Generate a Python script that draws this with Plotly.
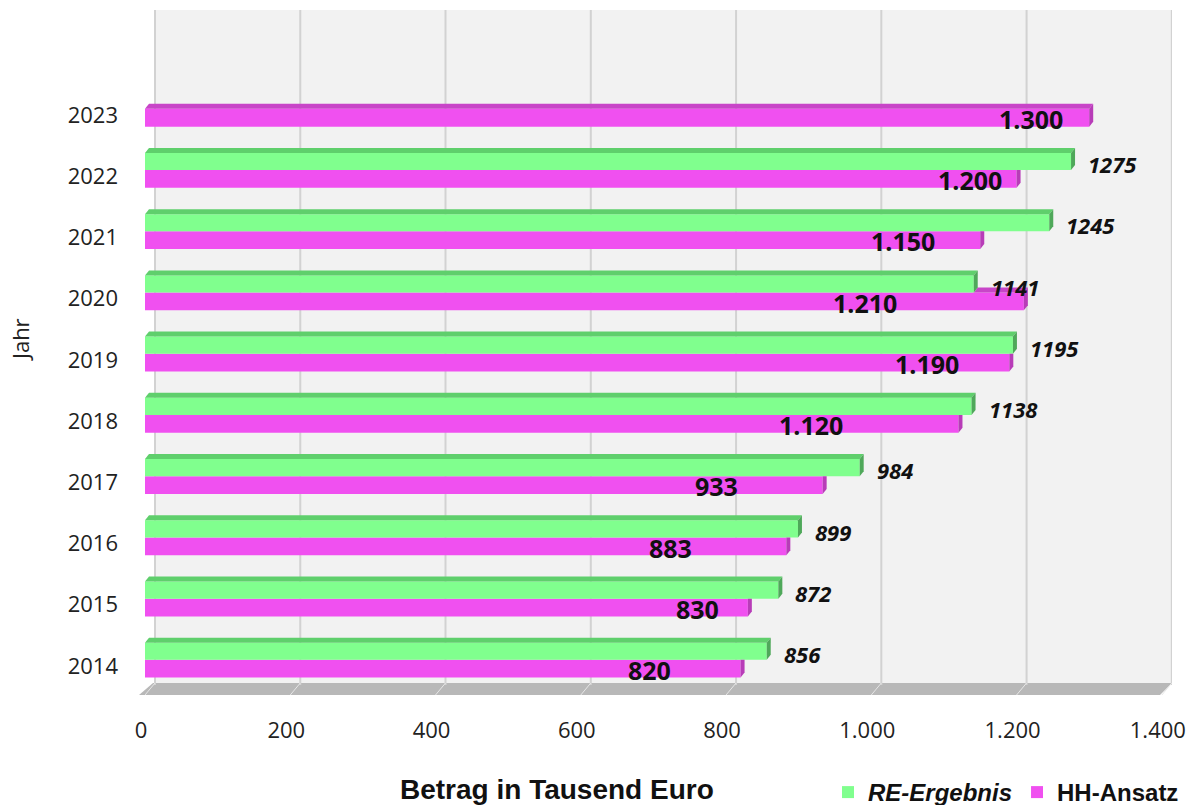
import plotly.graph_objects as go

years = [2014, 2015, 2016, 2017, 2018, 2019, 2020, 2021, 2022, 2023]
re_ergebnis = [856, 872, 899, 984, 1138, 1195, 1141, 1245, 1275, None]
hh_ansatz = [820, 830, 883, 933, 1120, 1190, 1210, 1150, 1200, 1300]
hh_text = ["820", "830", "883", "933", "1.120", "1.190", "1.210", "1.150", "1.200", "1.300"]
hh_label_x = [695, 761, 724, 787, 917, 1076, 991, 1043, 1136, 1220]
x_ticks = [0, 200, 400, 600, 800, 1000, 1200, 1400]
x_tick_text = ["0", "200", "400", "600", "800", "1.000", "1.200", "1.400"]

GREEN = "#80ff8e"
GREEN_TOP = "#5fcf6c"
GREEN_SIDE = "#4fa85a"
PURPLE = "#f050f0"
PURPLE_TOP = "#c845c8"
PURPLE_SIDE = "#b83cb8"

# layout geometry
L, T, B, R = 145, 10, 110, 24
W, H = 1196, 805
pw = W - L - R
ph = H - T - B
XMAX = 1414
YR = [2013.526, 2024.715]
pxu_x = pw / XMAX
pxu_y = ph / (YR[1] - YR[0])

P_OFF, P_W = -0.19, 0.29
G_OFF, G_W = 0.10, 0.28

fig = go.Figure()
fig.add_trace(go.Bar(
    y=years, x=hh_ansatz, orientation="h", name="HH-Ansatz",
    marker=dict(color=PURPLE, line=dict(width=0)),
    offset=P_OFF, width=P_W, showlegend=True,
))
fig.add_trace(go.Bar(
    y=years, x=re_ergebnis, orientation="h", name="<i>RE-Ergebnis</i>",
    marker=dict(color=GREEN, line=dict(width=0)),
    offset=G_OFF, width=G_W, showlegend=True,
))

shapes = []
def px2paper_x(px):
    return (px - L) / pw
def px2paper_y(py):
    return (H - B - py) / ph

# back wall
wall_dx, wall_dy = 10, 10
shapes.append(dict(type="rect", xref="paper", yref="paper",
                   x0=px2paper_x(L + wall_dx), x1=1, y0=px2paper_y(H - B - wall_dy), y1=1,
                   fillcolor="#f2f2f2", line=dict(width=0), layer="below"))
# floor
shapes.append(dict(type="path", xref="paper", yref="paper",
                   path=f"M {px2paper_x(L-6)},0 L {px2paper_x(L+wall_dx-2)},{px2paper_y(H-B-wall_dy-2)} "
                        f"L 1,{px2paper_y(H-B-wall_dy-2)} L {px2paper_x(W-R-12)},0 Z",
                   fillcolor="#b8b8b8", line=dict(width=0), layer="below"))
# grid lines on back wall
gshift = wall_dx / pxu_x
for v in x_ticks:
    shapes.append(dict(type="line", xref="x", yref="paper",
                       x0=v + gshift, x1=v + gshift,
                       y0=px2paper_y(H - B - wall_dy), y1=1,
                       line=dict(color="#d2d2d2", width=2), layer="below"))
    shapes.append(dict(type="line", xref="x", yref="paper",
                       x0=v + gshift, x1=v, y0=px2paper_y(H - B - wall_dy - 2), y1=0,
                       line=dict(color="#e6e6e6", width=1), layer="below"))

# 3D faces of bars
dxu = 4 / pxu_x
dyu = 5 / pxu_y
def face(points, color):
    d = "M " + " L ".join(f"{x},{y}" for x, y in points) + " Z"
    return dict(type="path", xref="x", yref="y", path=d, fillcolor=color,
                line=dict(width=0), layer="above")

for yr, g, p in zip(years, re_ergebnis, hh_ansatz):
    pb, pt = yr + P_OFF, yr + P_OFF + P_W
    if g is None:
        shapes.append(face([(0, pt), (dxu, pt + dyu), (p + dxu, pt + dyu), (p, pt)], PURPLE_TOP))
        shapes.append(face([(p, pb), (p, pt), (p + dxu, pt + dyu), (p + dxu, pb + dyu)], PURPLE_SIDE))
    else:
        if p > g:
            shapes.append(face([(g, pt), (g + dxu, pt + dyu), (p + dxu, pt + dyu), (p, pt)], PURPLE_TOP))
            shapes.append(face([(p, pb), (p, pt), (p + dxu, pt + dyu), (p + dxu, pb + dyu)], PURPLE_SIDE))
        else:
            shapes.append(face([(p, pb), (p, pt), (p + dxu, pt), (p + dxu, pb + dyu)], PURPLE_SIDE))
    if g is not None:
        gb, gt = yr + G_OFF, yr + G_OFF + G_W
        shapes.append(face([(0, gt), (dxu, gt + dyu), (g + dxu, gt + dyu), (g, gt)], GREEN_TOP))
        shapes.append(face([(g, gb), (g, gt), (g + dxu, gt + dyu), (g + dxu, gb + dyu)], GREEN_SIDE))

annotations = []
for yr, g in zip(years, re_ergebnis):
    if g is None:
        continue
    annotations.append(dict(x=g, y=yr, xref="x", yref="y", text=f"<b><i>{g}</i></b>",
                            showarrow=False, xanchor="left", yanchor="middle",
                            xshift=15, yshift=12,
                            font=dict(family="Open Sans", size=22, color="#111111")))
for yr, lx, t in zip(years, hh_label_x, hh_text):
    annotations.append(dict(x=lx, y=yr, xref="x", yref="y", text=f"<b>{t}</b>",
                            showarrow=False, xanchor="center", yanchor="middle",
                            yshift=-4,
                            font=dict(family="Open Sans", size=25, color="#111111")))
annotations.append(dict(x=px2paper_x(557), y=px2paper_y(789), xref="paper", yref="paper",
                        text="<b>Betrag in Tausend Euro</b>", showarrow=False,
                        xanchor="center", yanchor="middle",
                        font=dict(family="Liberation Sans", size=28, color="#111111")))
annotations.append(dict(x=px2paper_x(20), y=px2paper_y(340), xref="paper", yref="paper",
                        text="Jahr", showarrow=False, textangle=-90,
                        xanchor="center", yanchor="middle",
                        font=dict(family="Open Sans", size=22, color="#222222")))

fig.update_layout(
    width=W, height=H,
    margin=dict(l=L, r=R, t=T, b=B, autoexpand=False),
    paper_bgcolor="white", plot_bgcolor="white",
    barmode="overlay",
    shapes=shapes, annotations=annotations,
    showlegend=True,
    legend=dict(orientation="h", x=px2paper_x(828), y=px2paper_y(770),
                xanchor="left", yanchor="top", traceorder="reversed",
                font=dict(family="Liberation Sans", size=24, color="#111111", weight="bold"),
                bgcolor="rgba(0,0,0,0)", itemwidth=30),
    xaxis=dict(range=[0, XMAX], tickvals=x_ticks, ticktext=x_tick_text,
               showgrid=False, zeroline=False, showline=False, ticks="",
               ticklabelstandoff=20, ticklabelshift=-4, automargin=False,
               tickfont=dict(family="Open Sans", size=22, color="#222222")),
    yaxis=dict(range=YR, tickvals=years, ticktext=[str(y) for y in years],
               showgrid=False, zeroline=False, showline=False, ticks="",
               ticklabelstandoff=26, automargin=False,
               tickfont=dict(family="Open Sans", size=22, color="#222222")),
)

fig.write_html("out.html")
